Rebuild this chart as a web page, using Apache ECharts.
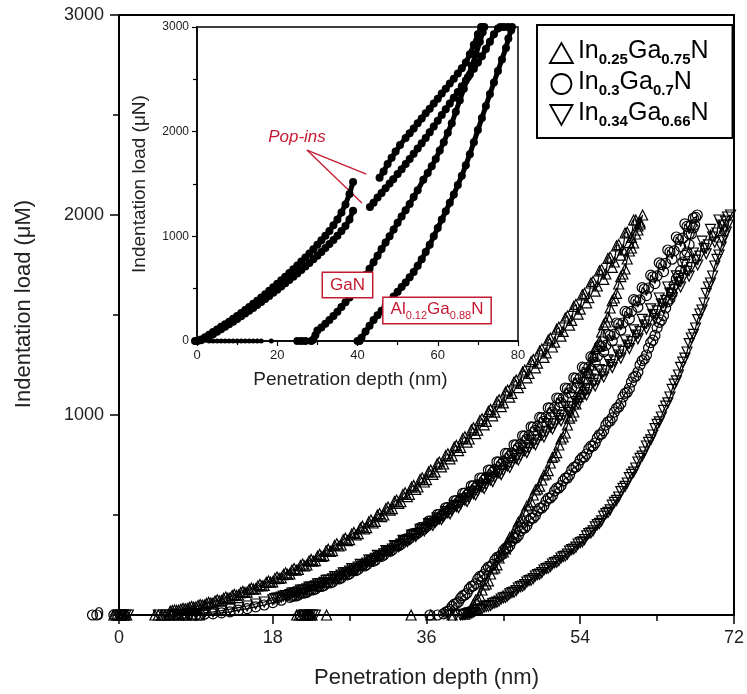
<!DOCTYPE html>
<html><head><meta charset="utf-8">
<script src="https://cdn.jsdelivr.net/npm/echarts@6/dist/echarts.min.js"></script>
<style>html,body{margin:0;padding:0;background:#fff}#c{width:747px;height:694px}</style>
</head><body><div id="c"></div>
<script>
const FONT = "'Liberation Sans', Arial, Helvetica, sans-serif";
const RED = '#c41a32';

// ---------- main chart (nm, load) ----------
const mainXTicks = [0, 18, 36, 54, 72];
const mainYTicks = [0, 1000, 2000, 3000];
const seriesNames = ['In0.25Ga0.75N', 'In0.3Ga0.7N', 'In0.34Ga0.66N'];
const legendParts = [['In','0.25','Ga','0.75','N'], ['In','0.3','Ga','0.7','N'], ['In','0.34','Ga','0.66','N']];

const triZero = [[-0.6,0],[-0.3,0],[0,0],[0.2,0],[0.4,0],[0.7,0],[0.9,0],[20.8,0],[21.1,0],[21.4,0],[21.7,0],[22,0],[22.3,0],[22.6,0],[24.3,0],[4.2,0],[4.6,0],[5,0],[5.4,0],[5.8,0],[6.2,0],[7,0],[7.8,0],[8.6,0],[9.4,0]];
const triLoad = [[6,19],[6.5,25],[7,24],[7.5,33],[8,32],[8.5,42],[9,40],[9.5,52],[10,50],[10.5,63],[11,60],[11.5,76],[12,72],[12.5,90],[13,86],[13.5,103],[14,100],[14.5,118],[15,114],[15.5,135],[16,131],[16.5,152],[17,148],[17.5,170],[18,166],[18.5,190],[19,186],[19.5,211],[20,206],[20.5,232],[21,228],[21.5,255],[22,250],[22.5,278],[23,272],[23.5,303],[24,297],[24.5,329],[25,322],[25.5,356],[26,350],[26.5,384],[27,377],[27.5,413],[28,407],[28.5,444],[29,437],[29.5,475],[30,468],[30.5,507],[31,500],[31.5,540],[32,532],[32.5,575],[33,567],[33.5,611],[34,603],[34.5,648],[35,640],[35.5,686],[36,677],[36.5,725],[37,716],[37.5,765],[38,755],[38.5,806],[39,796],[39.5,848],[40,838],[40.5,891],[41,880],[41.5,936],[42,924],[42.5,981],[43,968],[43.5,1028],[44,1014],[44.5,1076],[45,1061],[45.5,1124],[46,1108],[46.5,1174],[47,1158],[47.5,1225],[48,1208],[48.5,1277],[49,1259],[49.5,1330],[50,1311],[50.5,1384],[51,1364],[51.5,1439],[52,1418],[52.5,1495],[53,1473],[53.5,1553],[54,1529],[54.5,1608],[55,1587],[55.5,1668],[56,1645],[56.5,1728],[57,1705],[57.5,1789],[58,1765],[58.5,1852],[59,1826],[59.5,1914],[60,1888],[60.5,1975],[61,1955],[61.3,2000]];
const triLoadB = [[6.25,22],[6.75,23],[7.25,29],[7.75,31],[8.25,38],[8.75,39],[9.25,47],[9.75,49],[10.25,58],[10.75,60],[11.25,70],[11.75,71],[12.25,83],[12.75,84],[13.25,97],[13.75,98],[14.25,112],[14.75,113],[15.25,128],[15.75,129],[16.25,145],[16.75,146],[17.25,163],[17.75,164],[18.25,182],[18.75,183],[19.25,202],[19.75,203],[20.25,224],[20.75,224],[21.25,247],[21.75,246],[22.25,270],[22.75,269],[23.25,295],[23.75,293],[24.25,321],[24.75,318],[25.25,348],[25.75,345],[26.25,376],[26.75,372],[27.25,405],[27.75,400],[28.25,435],[28.75,430],[29.25,466],[29.75,460],[30.25,499],[30.75,492],[31.25,532],[31.75,524],[32.25,567],[32.75,558],[33.25,603],[33.75,592],[34.25,640],[34.75,628],[35.25,677],[35.75,665],[36.25,716],[36.75,703],[37.25,756],[37.75,741],[38.25,797],[38.75,781],[39.25,839],[39.75,822],[40.25,882],[40.75,864],[41.25,926],[41.75,907],[42.25,972],[42.75,951],[43.25,1018],[43.75,996],[44.25,1066],[44.75,1042],[45.25,1115],[45.75,1089],[46.25,1165],[46.75,1137],[47.25,1215],[47.75,1186],[48.25,1267],[48.75,1236],[49.25,1320],[49.75,1288],[50.25,1374],[50.75,1340],[51.25,1429],[51.75,1394],[52.25,1485],[52.75,1449],[53.25,1543],[53.75,1504],[54.25,1601],[54.75,1561],[55.25,1660],[55.75,1619],[56.25,1721],[56.75,1678],[57.25,1783],[57.75,1738],[58.25,1846],[58.75,1799],[59.25,1910],[59.75,1862],[60.25,1975],[60.75,1925]];
const triUnload = [[61,1965],[60.5,1905],[60,1835],[59.5,1780],[59,1705],[58.5,1655],[58,1585],[57.5,1535],[57,1465],[56.5,1415],[56,1345],[55.5,1295],[55,1225],[54.5,1175],[54,1105],[53.5,1055],[53,995],[52.5,950],[52,890],[51.5,850],[51,795],[50.5,760],[50,705],[49.5,675],[49,630],[48.5,600],[48,550],[47.5,520],[47,470],[46.5,440],[46,390],[45.5,365],[45,315],[44.5,285],[44,235],[43.5,205],[43,155],[42.5,125],[42,80],[41.5,55],[41,18],[40.5,4],[39,0],[36.5,0],[34.2,0]];
const triUnloadB = [[60.75,1945],[60.25,1860],[59.75,1820],[59.25,1730],[58.75,1692],[58.25,1608],[57.75,1572],[57.25,1490],[56.75,1452],[56.25,1368],[55.75,1332],[55.25,1250],[54.75,1212],[54.25,1130],[53.75,1092],[53.25,1015],[52.75,984],[52.25,910],[51.75,880],[51.25,812],[50.75,788],[50.25,722],[49.75,700],[49.25,644],[48.75,625],[48.25,566],[47.75,545],[47.25,486],[46.75,465],[46.25,406],[45.75,388],[45.25,331],[44.75,310],[44.25,251],[43.75,230],[43.25,171],[42.75,150],[42.25,95],[41.75,75],[41.25,30],[40.75,12]];

const cirZero = [[-3.1,0],[-2.6,0],[-0.6,0],[-0.3,0],[0.3,0],[0.6,0],[21.2,0],[21.7,0],[22.2,0],[5.8,0],[6.5,0],[6.9,0],[7.3,0],[7.6,0],[8,0],[8.6,0],[9.5,0]];
const cirLoad = [[9,1],[10,4],[11,6],[12,11],[13,16],[14,24],[15,32],[16,41],[17,50],[18,62],[19,74],[20,88],[20.5,96],[21,100],[21.5,110],[22,114],[22.5,126],[23,130],[23.5,144],[24,147],[24.5,162],[25,165],[25.5,182],[26,185],[26.5,203],[27,206],[27.5,225],[28,228],[28.5,247],[29,251],[29.5,271],[30,274],[30.5,296],[31,300],[31.5,322],[32,326],[32.5,350],[33,353],[33.5,378],[34,382],[34.5,407],[35,411],[35.5,438],[36,442],[36.5,470],[37,474],[37.5,503],[38,507],[38.5,537],[39,541],[39.5,572],[40,576],[40.5,609],[41,613],[41.5,646],[42,650],[42.5,684],[43,688],[43.5,724],[44,728],[44.5,765],[45,769],[45.5,807],[46,810],[46.5,850],[47,854],[47.5,894],[48,898],[48.5,940],[49,944],[49.5,986],[50,990],[50.5,1034],[51,1038],[51.5,1083],[52,1085],[52.5,1132],[53,1135],[53.5,1183],[54,1186],[54.5,1235],[55,1239],[55.5,1288],[56,1293],[56.5,1343],[57,1348],[57.5,1398],[58,1404],[58.5,1455],[59,1460],[59.5,1512],[60,1518],[60.5,1571],[61,1576],[61.5,1630],[62,1635],[62.5,1691],[63,1696],[63.5,1752],[64,1758],[64.5,1815],[65,1821],[65.5,1878],[66,1884],[66.5,1943],[67,1949],[67.5,1988],[67.7,2000]];
const cirLoadB = [[20.25,93],[20.75,95],[21.25,108],[21.75,110],[22.25,124],[22.75,126],[23.25,141],[23.75,143],[24.25,160],[24.75,161],[25.25,180],[25.75,180],[26.25,200],[26.75,201],[27.25,222],[27.75,222],[28.25,245],[28.75,245],[29.25,269],[29.75,268],[30.25,294],[30.75,293],[31.25,320],[31.75,319],[32.25,348],[32.75,346],[33.25,376],[33.75,374],[34.25,406],[34.75,403],[35.25,437],[35.75,433],[36.25,469],[36.75,464],[37.25,502],[37.75,496],[38.25,536],[38.75,530],[39.25,571],[39.75,564],[40.25,608],[40.75,600],[41.25,646],[41.75,636],[42.25,685],[42.75,674],[43.25,725],[43.75,713],[44.25,766],[44.75,753],[45.25,808],[45.75,794],[46.25,851],[46.75,836],[47.25,896],[47.75,879],[48.25,941],[48.75,923],[49.25,988],[49.75,968],[50.25,1036],[50.75,1015],[51.25,1085],[51.75,1062],[52.25,1135],[52.75,1111],[53.25,1186],[53.75,1160],[54.25,1239],[54.75,1211],[55.25,1292],[55.75,1263],[56.25,1347],[56.75,1316],[57.25,1403],[57.75,1370],[58.25,1460],[58.75,1425],[59.25,1518],[59.75,1481],[60.25,1577],[60.75,1539],[61.25,1637],[61.75,1597],[62.25,1699],[62.75,1657],[63.25,1761],[63.75,1717],[64.25,1825],[64.75,1779],[65.25,1890],[65.75,1842],[66.25,1956],[66.75,1906],[67.25,1985]];
const cirUnload = [[67.4,1950],[67,1905],[66.5,1815],[66,1765],[65.5,1695],[65,1650],[64.5,1580],[64,1535],[63.5,1475],[63,1436],[62.5,1374],[62,1335],[61.5,1280],[61,1250],[60.5,1194],[60,1165],[59.5,1114],[59,1090],[58.5,1040],[58,1015],[57.5,970],[57,950],[56.5,905],[56,885],[55.5,845],[55,830],[54.5,790],[54,775],[53.5,740],[53,725],[52.5,685],[52,670],[51.5,635],[51,620],[50.5,585],[50,570],[49.5,535],[49,520],[48.5,485],[48,470],[47.5,435],[47,420],[46.5,385],[46,370],[45.5,335],[45,322],[44.5,290],[44,274],[43.5,242],[43,226],[42.5,194],[42,179],[41.5,146],[41,131],[40.5,100],[40,84],[39.5,57],[39,43],[38.5,18],[38,6],[37.3,0],[36.4,0]];
const cirUnloadB = [[67.25,1935],[66.75,1852],[66.25,1798],[65.75,1722],[65.25,1680],[64.75,1606],[64.25,1566],[63.75,1497],[63.25,1463],[62.75,1398],[62.25,1362],[61.75,1300],[61.25,1272],[60.75,1215],[60.25,1188],[59.75,1133],[59.25,1108],[58.75,1058],[58.25,1034],[57.75,986],[57.25,966],[56.75,922],[56.25,901],[55.75,860],[55.25,844],[54.75,805],[54.25,788],[53.75,753],[53.25,738],[52.75,700],[52.25,684],[51.75,647],[51.25,634],[50.75,597],[50.25,584],[49.75,547],[49.25,534],[48.75,497],[48.25,484],[47.75,447],[47.25,434],[46.75,397],[46.25,384],[45.75,347],[45.25,334],[44.75,300],[44.25,288],[43.75,253],[43.25,240],[42.75,205],[42.25,193],[41.75,157],[41.25,143],[40.75,110],[40.25,97],[39.75,66],[39.25,54],[38.75,27],[38.25,14]];

const dtriZero = [[-0.2,0],[0.2,0],[0.5,0],[0.8,0],[1.1,0],[21.6,0],[21.9,0],[22.4,0],[22.7,0],[23,0],[4.6,0],[5.4,0],[5.9,0],[6.4,0],[7,0],[7.6,0],[8.4,0]];
const dtriLoad = [[8,4],[9,7],[10,11],[11,16],[12,22],[13,29],[14,37],[15,45],[16,55],[17,65],[18,76],[18.5,84],[19,89],[19.5,97],[20,102],[20.5,111],[21,116],[21.5,125],[22,131],[22.5,140],[23,146],[23.5,156],[24,163],[24.5,174],[25,181],[25.5,192],[26,199],[26.5,211],[27,219],[27.5,231],[28,239],[28.5,252],[29,260],[29.5,274],[30,283],[30.5,297],[31,306],[31.5,321],[32,330],[32.5,345],[33,354],[33.5,370],[34,380],[34.5,397],[35,407],[35.5,424],[36,434],[36.5,452],[37,463],[37.5,481],[38,492],[38.5,511],[39,523],[39.5,542],[40,554],[40.5,574],[41,586],[41.5,606],[42,619],[42.5,640],[43,653],[43.5,674],[44,688],[44.5,709],[45,723],[45.5,745],[46,760],[46.5,782],[47,797],[47.5,820],[48,836],[48.5,859],[49,875],[49.5,899],[50,915],[50.5,940],[51,956],[51.5,982],[52,999],[52.5,1024],[53,1041],[53.5,1067],[54,1085],[54.5,1112],[55,1130],[55.5,1158],[56,1176],[56.5,1205],[57,1222],[57.5,1252],[58,1270],[58.5,1300],[59,1318],[59.5,1349],[60,1367],[60.5,1399],[61,1417],[61.5,1450],[62,1469],[62.5,1502],[63,1521],[63.5,1555],[64,1573],[64.5,1609],[65,1627],[65.5,1663],[66,1682],[66.5,1718],[67,1737],[67.5,1774],[68,1794],[68.5,1832],[69,1851],[69.5,1890],[70,1910],[70.5,1950],[71,1969],[71.6,2000]];
const dtriLoadB = [[18.25,82],[18.75,84],[19.25,95],[19.75,97],[20.25,109],[20.75,110],[21.25,124],[21.75,125],[22.25,139],[22.75,140],[23.25,156],[23.75,156],[24.25,173],[24.75,173],[25.25,192],[25.75,191],[26.25,211],[26.75,210],[27.25,232],[27.75,230],[28.25,253],[28.75,251],[29.25,275],[29.75,272],[30.25,298],[30.75,295],[31.25,322],[31.75,318],[32.25,347],[32.75,342],[33.25,373],[33.75,367],[34.25,400],[34.75,393],[35.25,428],[35.75,420],[36.25,457],[36.75,448],[37.25,486],[37.75,477],[38.25,517],[38.75,506],[39.25,548],[39.75,537],[40.25,581],[40.75,568],[41.25,614],[41.75,600],[42.25,649],[42.75,633],[43.25,684],[43.75,667],[44.25,720],[44.75,702],[45.25,757],[45.75,738],[46.25,795],[46.75,775],[47.25,834],[47.75,812],[48.25,874],[48.75,851],[49.25,915],[49.75,890],[50.25,957],[50.75,930],[51.25,1000],[51.75,971],[52.25,1043],[52.75,1013],[53.25,1088],[53.75,1056],[54.25,1133],[54.75,1100],[55.25,1180],[55.75,1145],[56.25,1227],[56.75,1190],[57.25,1276],[57.75,1237],[58.25,1325],[58.75,1284],[59.25,1375],[59.75,1332],[60.25,1426],[60.75,1381],[61.25,1478],[61.75,1431],[62.25,1531],[62.75,1482],[63.25,1585],[63.75,1534],[64.25,1640],[64.75,1587],[65.25,1696],[65.75,1640],[66.25,1753],[66.75,1694],[67.25,1810],[67.75,1750],[68.25,1869],[68.75,1806],[69.25,1928],[69.75,1864],[70.25,1975],[70.75,1925],[71.25,1990]];
const dtriUnload = [[71.3,1950],[70.9,1895],[70.5,1840],[70,1778],[69.5,1695],[69,1640],[68.5,1560],[68,1505],[67.5,1435],[67,1385],[66.5,1315],[66,1264],[65.5,1200],[65,1154],[64.5,1090],[64,1044],[63.5,990],[63,953],[62.5,900],[62,863],[61.5,815],[61,783],[60.5,735],[60,703],[59.5,660],[59,633],[58.5,590],[58,563],[57.5,526],[57,507],[56.5,471],[56,452],[55.5,421],[55,407],[54.5,377],[54,362],[53.5,339],[53,327],[52.5,304],[52,292],[51.5,272],[51,262],[50.5,242],[50,232],[49.5,212],[49,202],[48.5,182],[48,172],[47.5,152],[47,142],[46.5,122],[46,112],[45.5,95],[45,86],[44.5,70],[44,61],[43.5,48],[43,43],[42.5,31],[42,26],[41.5,15],[41,11],[40.5,3],[40,0],[39.4,0],[38.6,0]];
const dtriUnloadB = [[71.1,1915],[70.7,1872],[70.25,1800],[69.75,1745],[69.25,1660],[68.75,1608],[68.25,1525],[67.75,1477],[67.25,1403],[66.75,1357],[66.25,1284],[65.75,1238],[65.25,1171],[64.75,1128],[64.25,1061],[63.75,1023],[63.25,966],[62.75,932],[62.25,876],[61.75,845],[61.25,794],[60.75,765],[60.25,714],[59.75,687],[59.25,643],[58.75,617],[58.25,573],[57.75,549],[57.25,513],[56.75,494],[56.25,458],[55.75,441],[55.25,411],[54.75,396],[54.25,366],[53.75,355],[53.25,330],[52.75,319],[52.25,295],[51.75,285],[51.25,264],[50.75,255],[50.25,234],[49.75,225],[49.25,204],[48.75,195],[48.25,174],[47.75,165],[47.25,144],[46.75,135],[46.25,114],[45.75,106],[45.25,88],[44.75,80],[44.25,64],[43.75,57],[43.25,44],[42.75,39],[42.25,27],[41.75,23],[41.25,12],[40.75,7],[40.25,1]];

// ---------- inset (nm, load uN) ----------
const insetXTicks = [0, 20, 40, 60, 80];
const insetYTicks = [0, 1000, 2000, 3000];
const ganLoadBefore = [[-0.5,0],[0,0],[1,15],[2,35],[3,60],[4,85],[5,110],[6,135],[7,160],[8,185],[9,212],[10,240],[11,268],[12,296],[13,325],[14,355],[15,385],[16,415],[17,447],[18,480],[19,513],[20,547],[21,580],[22,615],[23,650],[24,686],[25,722],[26,760],[27,798],[28,837],[29,877],[30,920],[31,962],[32,1005],[33,1052],[34,1105],[35,1162],[36,1228],[37,1305],[38,1405],[38.9,1520]];
const ganAfter = [[45.5,1560],[46.5,1620],[47.5,1690],[48.5,1750],[49.5,1810],[50.6,1872],[52,1940],[53,1985],[54,2030],[55,2080],[56,2125],[57,2175],[58,2220],[59,2270],[60,2315],[61,2365],[62,2410],[63,2460],[64,2505],[65,2555],[66,2605],[67,2660],[68,2740],[69,2830],[70,2930],[70.8,3000],[71.2,3000],[71.6,3000],[71.2,2950],[70.5,2860],[69.5,2740],[68.5,2630],[67.5,2520],[66.5,2410],[65.5,2300],[64.5,2190],[63.5,2080],[62.5,1990],[61.5,1900],[60.5,1820],[59.5,1740],[58.5,1670],[57.5,1605],[56.4,1540],[55,1440],[54,1375],[53,1310],[52,1250],[51,1190],[50,1130],[49,1065],[48,1000],[47,940],[46,878],[45,815],[44,752],[43,690],[42,630],[41,570],[40,515],[39,460],[38,415],[37,370],[36,325],[35,280],[34,240],[33,200],[32,165],[31,130],[30,100],[29.5,55],[29,15],[28.5,0],[27,0],[26,0],[25,0]];
const alganLoadBefore = [[0,0],[1,8],[2,22],[3,42],[4,64],[5,88],[6,112],[7,136],[8,160],[9,185],[10,210],[11,236],[12,262],[13,289],[14,316],[15,344],[16,373],[17,402],[18,431],[19,460],[20,490],[21,520],[22,551],[23,582],[24,614],[25,646],[26,679],[27,712],[28,746],[29,780],[30,815],[31,851],[32,888],[33,926],[34,965],[35,1006],[36,1050],[37,1098],[38,1160],[38.9,1245]];
const alganAfter = [[43.1,1280],[44,1320],[45,1370],[46,1415],[47,1460],[48,1505],[48.9,1545],[50,1595],[51,1642],[52,1690],[53,1740],[54,1790],[55,1840],[56,1890],[57,1940],[58,1995],[59,2050],[60,2105],[61,2160],[62,2215],[63,2270],[64,2325],[65,2380],[66,2435],[67,2490],[68,2545],[69,2600],[70,2660],[71,2720],[72,2790],[73,2860],[74,2930],[75,2985],[75.6,3000],[76.5,3000],[77.5,3000],[78.5,3000],[78.3,2970],[77.6,2890],[77,2800],[76,2690],[75,2580],[74,2470],[73,2360],[72,2245],[71,2130],[70,2015],[69,1900],[68,1785],[67,1680],[66,1580],[65,1490],[64,1400],[63,1320],[62,1240],[61,1160],[60,1080],[59,1000],[58,920],[57,850],[56,780],[55,720],[54,660],[53,610],[52,560],[51,515],[50,470],[49,425],[48,380],[47,335],[46,290],[45,245],[44,200],[43,145],[42,90],[41,30],[40.5,0],[40,0]];
const insetZeroDots = [[3,0],[4,0],[5,0],[6,0],[7,0],[8,0],[9,0],[10,0],[11,0],[12,0],[13,0],[14,0],[15,0],[16,0],[18.5,0]];
// pop-in arrows: [fromX, fromY, toX, toY] in inset data units
const popinArrows = [[27.4,1824,42.2,1595],[27.4,1824,41.1,1318]];

const asc = (a, b) => a.concat(b).sort((p, q) => p[0] - q[0]);
const desc = (a, b) => a.concat(b).sort((p, q) => q[0] - p[0]);

const chart = echarts.init(document.getElementById('c'));

function mainSeries(i, data, symbol, rotate) {
  return {
    name: seriesNames[i], type: 'line', xAxisIndex: 0, yAxisIndex: 0,
    data: data, symbol: symbol, symbolRotate: rotate, symbolSize: 10,
    showAllSymbol: true, clip: false, z: 2,
    itemStyle: { color: 'rgba(255,255,255,0)', borderColor: '#000', borderWidth: 1.2 },
    lineStyle: { color: '#000', width: 1.2 },
    emphasis: { disabled: true }
  };
}
function insetSeries(data, extra) {
  return Object.assign({
    type: 'line', xAxisIndex: 1, yAxisIndex: 1, data: data,
    symbol: 'circle', symbolSize: 8, showAllSymbol: true, clip: false, z: 7,
    itemStyle: { color: '#000' }, lineStyle: { color: '#000', width: 5 },
    emphasis: { disabled: true }
  }, extra || {});
}
const legendFmt = {};
seriesNames.forEach((n, i) => {
  const p = legendParts[i];
  legendFmt[n] = '{n|' + p[0] + '}{s|' + p[1] + '}{n|' + p[2] + '}{s|' + p[3] + '}{n|' + p[4] + '}';
});

const axisLbl = { color: '#222', fontFamily: FONT, formatter: v => String(v) };
const option = {
  animation: false,
  backgroundColor: '#fff',
  textStyle: { fontFamily: FONT },
  grid: [
    { left: 119, top: 15, width: 618, height: 602, show: true, borderColor: '#000', borderWidth: 2, backgroundColor: 'rgba(0,0,0,0)', z: 0 },
    { left: 197, top: 27, width: 321, height: 314, show: true, borderColor: '#000', borderWidth: 1.5, backgroundColor: '#fff', z: 5 }
  ],
  xAxis: [
    { gridIndex: 0, type: 'value', min: mainXTicks[0], max: mainXTicks[mainXTicks.length - 1], interval: mainXTicks[1] - mainXTicks[0],
      axisLine: { onZero: false, lineStyle: { color: '#000', width: 2 } },
      axisTick: { length: 9, lineStyle: { color: '#000', width: 1.5 } },
      minorTick: { show: true, splitNumber: 2, length: 6, lineStyle: { color: '#000', width: 1.5 } },
      splitLine: { show: false },
      axisLabel: Object.assign({ fontSize: 18, margin: 14 }, axisLbl),
      name: 'Penetration depth (nm)', nameLocation: 'middle', nameGap: 52,
      nameTextStyle: { fontSize: 22, color: '#222', fontFamily: FONT } },
    { gridIndex: 1, type: 'value', min: insetXTicks[0], max: insetXTicks[insetXTicks.length - 1], interval: insetXTicks[1] - insetXTicks[0], z: 6,
      axisLine: { onZero: false, lineStyle: { color: '#000', width: 1.5 } },
      axisTick: { length: 5, lineStyle: { color: '#000', width: 1.2 } },
      minorTick: { show: true, splitNumber: 2, length: 4, lineStyle: { color: '#000', width: 1.2 } },
      splitLine: { show: false },
      axisLabel: Object.assign({ fontSize: 13, margin: 8 }, axisLbl),
      name: 'Penetration depth (nm)', nameLocation: 'middle', nameGap: 29,
      nameTextStyle: { fontSize: 19, color: '#222', fontFamily: FONT, padding: [0, 14, 0, 0] } }
  ],
  yAxis: [
    { gridIndex: 0, type: 'value', min: mainYTicks[0], max: mainYTicks[mainYTicks.length - 1], interval: mainYTicks[1] - mainYTicks[0],
      axisLine: { onZero: false, lineStyle: { color: '#000', width: 2 } },
      axisTick: { length: 9, lineStyle: { color: '#000', width: 1.5 } },
      minorTick: { show: true, splitNumber: 2, length: 6, lineStyle: { color: '#000', width: 1.5 } },
      splitLine: { show: false },
      axisLabel: Object.assign({ fontSize: 18, margin: 15 }, axisLbl),
      name: 'Indentation load (\u03bcM)', nameLocation: 'middle', nameGap: 84,
      nameTextStyle: { fontSize: 22, color: '#222', fontFamily: FONT, padding: [0, 0, 0, 22] } },
    { gridIndex: 1, type: 'value', min: insetYTicks[0], max: insetYTicks[insetYTicks.length - 1], interval: insetYTicks[1] - insetYTicks[0], z: 6,
      axisLine: { onZero: false, lineStyle: { color: '#000', width: 1.5 } },
      axisTick: { length: 5, lineStyle: { color: '#000', width: 1.2 } },
      minorTick: { show: true, splitNumber: 2, length: 4, lineStyle: { color: '#000', width: 1.2 } },
      splitLine: { show: false },
      axisLabel: Object.assign({ fontSize: 12, margin: 8 }, axisLbl),
      name: 'Indentation load (\u03bcN)', nameLocation: 'middle', nameGap: 48,
      nameTextStyle: { fontSize: 19, color: '#222', fontFamily: FONT } }
  ],
  legend: {
    left: 537, top: 25, orient: 'vertical', selectedMode: false,
    borderColor: '#000', borderWidth: 2, padding: [14, 24, 9, 12],
    itemWidth: 23, itemHeight: 20, itemGap: 3,
    itemStyle: { color: 'rgba(255,255,255,0)', borderColor: '#000', borderWidth: 1.8 },
    data: [
      { name: seriesNames[0], icon: 'triangle' },
      { name: seriesNames[1], icon: 'circle' },
      { name: seriesNames[2], icon: 'path://M0,0 L20,0 L10,18 Z' }
    ],
    formatter: n => legendFmt[n],
    textStyle: {
      color: '#000', fontFamily: FONT,
      rich: {
        n: { fontSize: 25, color: '#000', fontFamily: FONT, verticalAlign: 'bottom', padding: [0, 0, 3, 0] },
        s: { fontSize: 15, fontWeight: 'bold', color: '#000', fontFamily: FONT, verticalAlign: 'bottom' }
      }
    }
  },
  series: [
    mainSeries(0, triZero.concat(asc(triLoad, triLoadB), desc(triUnload, triUnloadB)), 'triangle', 0),
    mainSeries(1, cirZero.concat(asc(cirLoad, cirLoadB), desc(cirUnload, cirUnloadB)), 'circle', 0),
    mainSeries(2, dtriZero.concat(asc(dtriLoad, dtriLoadB), desc(dtriUnload, dtriUnloadB)), 'triangle', 180),
    insetSeries(ganLoadBefore, {
      markLine: {
        silent: true, symbol: ['none', 'arrow'], symbolSize: [0, 9],
        lineStyle: { color: RED, width: 1.3, type: 'solid' }, itemStyle: { color: RED },
        label: { show: false }, emphasis: { disabled: true },
        data: popinArrows.map(a => [{ coord: [a[0], a[1]] }, { coord: [a[2], a[3]] }])
      }
    }),
    insetSeries(ganAfter),
    insetSeries(alganLoadBefore),
    insetSeries(alganAfter),
    insetSeries(insetZeroDots, { symbolSize: 5, lineStyle: { width: 0, color: '#000' } })
  ],
  graphic: [
    { type: 'text', x: 297, y: 137, z: 20, silent: true,
      style: { text: 'Pop-ins', fontSize: 17, fontStyle: 'italic', fontFamily: FONT, fill: RED, align: 'center', verticalAlign: 'middle' } },
    { type: 'text', x: 347.5, y: 285, z: 20, silent: true,
      style: { text: 'GaN', fontSize: 17, fontFamily: FONT, fill: RED, align: 'center', verticalAlign: 'middle',
               backgroundColor: '#fff', borderColor: RED, borderWidth: 1.5, padding: [4, 7, 3, 7] } },
    { type: 'text', x: 437, y: 310.5, z: 20, silent: true,
      style: { text: '{a|Al}{s|0.12}{a|Ga}{s|0.88}{a|N}', align: 'center', verticalAlign: 'middle',
               backgroundColor: '#fff', borderColor: RED, borderWidth: 1.5, padding: [3, 7, 2, 7],
               rich: { a: { fontSize: 17, fontFamily: FONT, fill: RED, verticalAlign: 'bottom', padding: [0, 0, 3, 0] },
                       s: { fontSize: 11, fontFamily: FONT, fill: RED, verticalAlign: 'bottom' } } } }
  ]
};
chart.setOption(option);
</script></body></html>
